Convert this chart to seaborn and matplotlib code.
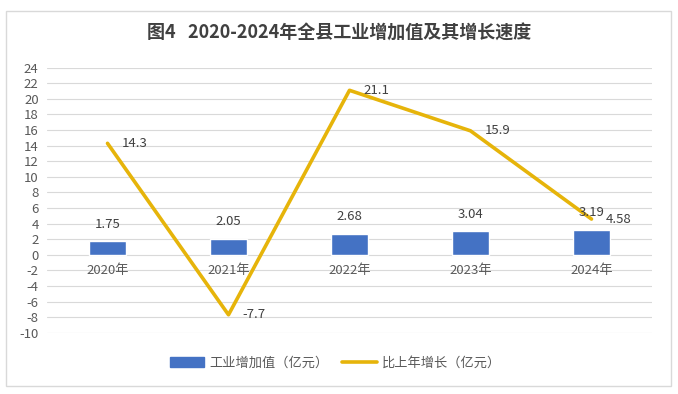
import numpy as np
import pandas as pd
import matplotlib
matplotlib.use("Agg")
import matplotlib.pyplot as plt
import seaborn as sns
from matplotlib.patches import Rectangle, Patch
from matplotlib.lines import Line2D

# DATA
years = ["2020年", "2021年", "2022年", "2023年", "2024年"]
value_added = [1.75, 2.05, 2.68, 3.04, 3.19]      # 工业增加值（亿元）
growth = [14.3, -7.7, 21.1, 15.9, 4.58]          # 比上年增长

BAR_COLOR = "#4472C4"
LINE_COLOR = "#E6B40A"
TEXT_COLOR = "#404040"

sns.set_style("white")
plt.rcParams["font.family"] = ["Noto Sans CJK SC", "DejaVu Sans"]
plt.rcParams["axes.unicode_minus"] = False

df = pd.DataFrame({"year": years, "value": value_added, "growth": growth})

fig = plt.figure(figsize=(6.78, 3.94), dpi=100)
ax = fig.add_axes([47 / 678, 1 - 332.7 / 394, 605 / 678, 265 / 394])

# BARS
sns.barplot(data=df, x="year", y="value", color=BAR_COLOR, width=0.3,
            saturation=1, ax=ax, zorder=2)

# LINE
sns.lineplot(data=df, x="year", y="growth", color=LINE_COLOR, linewidth=2.6,
             ax=ax, zorder=3, sort=False)

ax.set_ylim(-10, 24)
ax.set_xlim(-0.5, len(years) - 0.5)
ax.set_yticks(np.arange(-10, 25, 2))
ax.yaxis.grid(True, color="#D9D9D9", linewidth=0.8, zorder=0)
ax.set_axisbelow(True)
ax.tick_params(axis="y", labelsize=9.5, colors="#595959", length=0, pad=6)
ax.tick_params(axis="x", length=0, labelbottom=False)
ax.set_xlabel("")
ax.set_ylabel("")
for s in ax.spines.values():
    s.set_visible(False)

# DATA LABELS
for i, (v, g) in enumerate(zip(value_added, growth)):
    ax.annotate(f"{v:g}", (i, v), xytext=(0, 17), textcoords="offset pixels",
                ha="center", va="center", fontsize=9.5, color=TEXT_COLOR)
    ax.annotate(f"{g:g}", (i, g), xytext=(14, 0), textcoords="offset pixels",
                ha="left", va="center", fontsize=9.5, color=TEXT_COLOR)
    # category labels sit just under the zero line
    ax.annotate(years[i], (i, 0), xytext=(0, -16), textcoords="offset pixels",
                ha="center", va="center", fontsize=9.5, color="#595959")

# TITLE
fig.text(0.5, 1 - 33 / 394, "图4   2020-2024年全县工业增加值及其增长速度",
         ha="center", va="center", fontsize=13, fontweight="bold",
         color=TEXT_COLOR)

# LEGEND
handles = [Patch(facecolor=BAR_COLOR, edgecolor=BAR_COLOR),
           Line2D([0], [0], color=LINE_COLOR, linewidth=2.6)]
labels = ["工业增加值（亿元）", "比上年增长（亿元）"]
fig.legend(handles, labels, loc="center", bbox_to_anchor=(0.495, 1 - 363 / 394),
           ncol=2, frameon=False, fontsize=9.5, handlelength=2.6,
           handleheight=0.8, columnspacing=1.0, handletextpad=0.4,
           labelcolor="#595959")

# OUTER BORDER
fig.patches.append(Rectangle((6 / 678, 1 - 386 / 394), 665 / 678, 375 / 394,
                             transform=fig.transFigure, fill=False,
                             edgecolor="#D9D9D9", linewidth=1))

fig.savefig("out.png", dpi=100, facecolor="white")
